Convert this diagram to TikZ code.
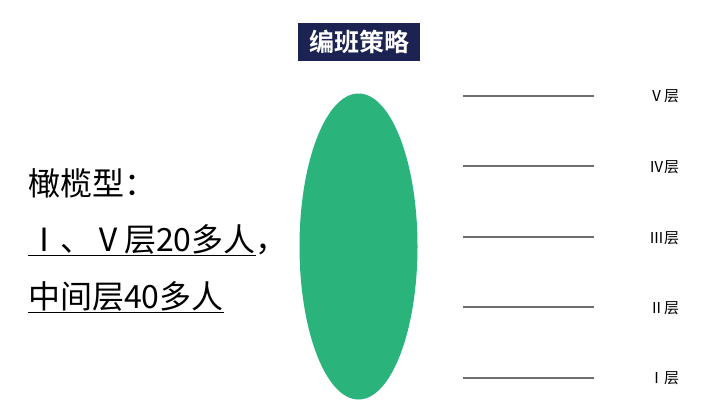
\documentclass[tikz,border=0pt]{standalone}
\usepackage{fontspec}
\setmainfont{Noto Sans CJK SC}
\newfontfamily\cjk{Noto Sans CJK SC}
\newfontfamily\cjkb{Noto Sans CJK SC Bold}
\definecolor{navy}{RGB}{28,35,82}
\definecolor{olive}{RGB}{43,179,124}
\definecolor{lvl}{RGB}{110,110,110}
\begin{document}
\begin{tikzpicture}[x=1pt,y=-1pt,
  layerline/.style={draw=lvl,line width=1.4pt},
  layerlabel/.style={font=\cjk\fontsize{15}{17}\selectfont,anchor=center,inner sep=0pt},
  lefttext/.style={font=\cjk\fontsize{32}{36}\selectfont,anchor=west,inner sep=0pt}]
\useasboundingbox (0,0) rectangle (711,415);
% title
\node[fill=navy,text=white,font=\cjkb\fontsize{25}{28}\selectfont,minimum width=122pt,minimum height=38pt,inner sep=0pt] (title) at (359,42) {编班策略};
% olive ellipse
\fill[olive] (358.5,246.5) ellipse [x radius=59, y radius=153];
% layer lines
\foreach \y/\n in {96/5,166/4,237/3,307/2,378/1}{
  \coordinate (l\n a) at (463,\y);
  \coordinate (l\n b) at (594,\y);
  \draw[layerline] (l\n a) -- (l\n b);
}
\node[layerlabel] (lab5) at (664,96) {Ⅴ层};
\node[layerlabel] (lab4) at (664,167) {Ⅳ层};
\node[layerlabel] (lab3) at (664,238) {Ⅲ层};
\node[layerlabel] (lab2) at (664,308) {Ⅱ层};
\node[layerlabel] (lab1) at (664,378) {Ⅰ层};
% left text
\node[lefttext] (t1) at (28,183) {橄榄型：};
\node[lefttext] (t2) at (28,240) {\underline{Ⅰ、Ⅴ层20多人}，};
\node[lefttext] (t3) at (28,297) {\underline{中间层40多人}};
\end{tikzpicture}
\end{document}
